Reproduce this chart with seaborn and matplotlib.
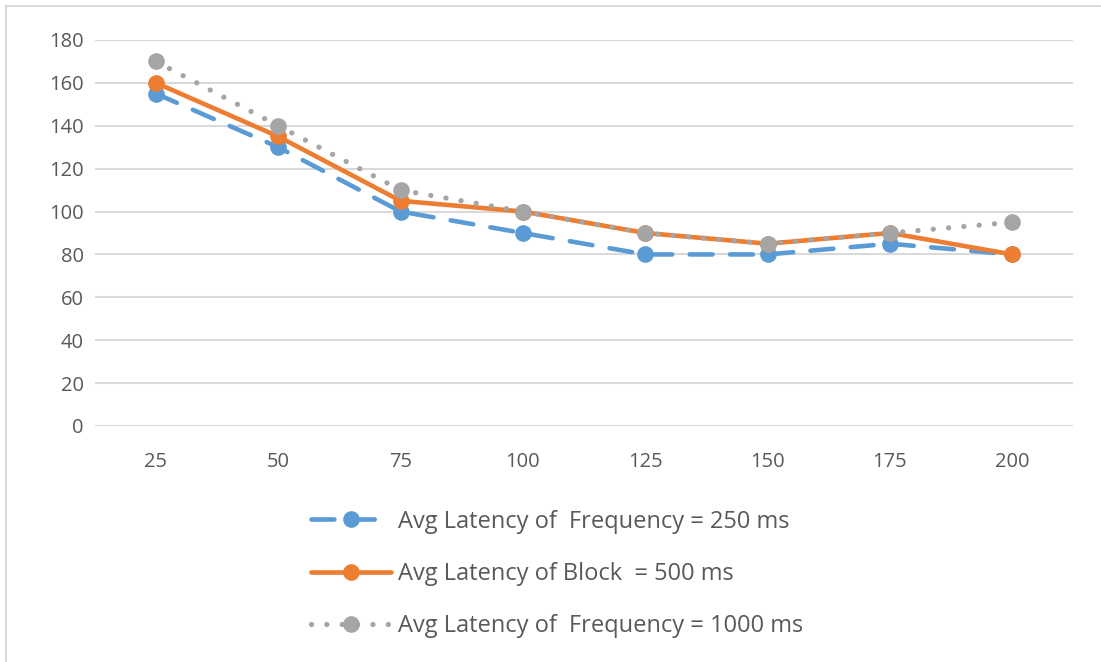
import matplotlib
matplotlib.use("Agg")
import matplotlib.pyplot as plt
from matplotlib.lines import Line2D
import seaborn as sns
import pandas as pd

# Block sizes on the x axis
block_sizes = [25, 50, 75, 100, 125, 150, 175, 200]

# Average latency for each configuration
latency_freq_250 = [155, 130, 100, 90, 80, 80, 85, 80]
latency_block_500 = [160, 135, 105, 100, 90, 85, 90, 80]
latency_freq_1000 = [170, 140, 110, 100, 90, 85, 90, 95]

series_labels = [
    "Avg Latency of  Frequency = 250 ms",
    "Avg Latency of Block  = 500 ms",
    "Avg Latency of  Frequency = 1000 ms",
]

y_ticks = [0, 20, 40, 60, 80, 100, 120, 140, 160, 180]

sns.set_theme(style="white")
plt.rcParams["font.family"] = ["Open Sans", "DejaVu Sans"]

fig = plt.figure(figsize=(11.01, 6.62), dpi=100)
ax = fig.add_axes([0.086, 0.3565, 0.889, 0.5831])

blue = "#5b9bd5"
orange = "#ed7d31"
gray = "#a5a5a5"

styles = [
    dict(color=blue, linewidth=3.3, dashes=(5.0, 3.8), zorder=3),
    dict(color=orange, linewidth=3.3, zorder=4),
    dict(color=gray, linewidth=3.8, dashes=(0.01, 2.9), zorder=5),
]
series = [latency_freq_250, latency_block_500, latency_freq_1000]

handles = []
for values, label, st in zip(series, series_labels, styles):
    df = pd.DataFrame({"block": block_sizes, "latency": values})
    sns.lineplot(data=df, x="block", y="latency", ax=ax, marker="o",
                 markersize=12, markeredgewidth=0, markerfacecolor=st["color"],
                 label=label, legend=False, **st)
    line = ax.get_lines()[-1]
    if "dashes" in st:
        line.set_dashes(st["dashes"])
        line.set_dash_capstyle("round")
    handles.append(line)

ax.set_xlim(12.5, 212.5)
ax.set_ylim(0, 180)
ax.set_xticks(block_sizes)
ax.set_xticklabels([str(b) for b in block_sizes])
ax.set_yticks(y_ticks)
ax.set_yticklabels([str(t) for t in y_ticks])
ax.set_xlabel("")
ax.set_ylabel("")

ax.yaxis.grid(True, color="#d9d9d9", linewidth=1.5, zorder=0)
ax.xaxis.grid(False)
ax.set_axisbelow(True)
for sp in ax.spines.values():
    sp.set_visible(False)

ax.tick_params(axis="both", length=0, labelsize=14.5, labelcolor="#595959")
ax.tick_params(axis="y", pad=8)
ax.tick_params(axis="x", pad=19)

leg = fig.legend(handles=handles, labels=series_labels, loc="center",
                 bbox_to_anchor=(0.506, 0.133), frameon=False, ncol=1,
                 fontsize=17, labelcolor="#595959", handlelength=3.4,
                 handletextpad=0.3, labelspacing=1.2)

# Light outer frame along the top and left edges
frame_kw = dict(transform=fig.transFigure, color="#d9d9d9", linewidth=1.5)
fig.add_artist(Line2D([6 / 1101, 6 / 1101], [0, 1 - 6 / 662], **frame_kw))
fig.add_artist(Line2D([6 / 1101, 1], [1 - 6 / 662, 1 - 6 / 662], **frame_kw))

fig.savefig("out.png", dpi=100, facecolor="white")
